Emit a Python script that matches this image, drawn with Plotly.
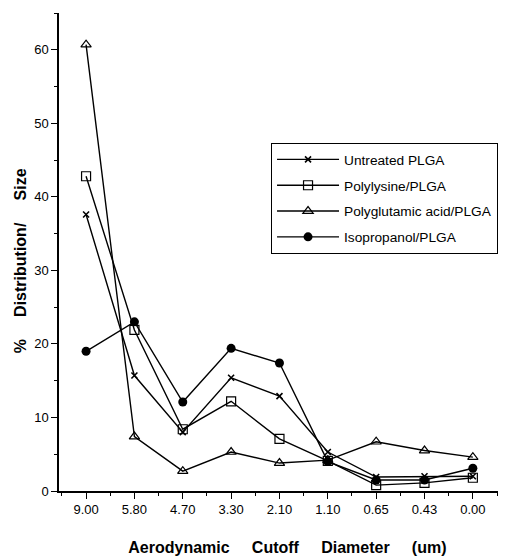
import plotly.graph_objects as go

categories = ["9.00", "5.80", "4.70", "3.30", "2.10", "1.10", "0.65", "0.43", "0.00"]
untreated = [37.6, 15.7, 8.0, 15.4, 12.9, 5.3, 1.9, 2.0, 2.0]
polylysine = [42.8, 21.9, 8.4, 12.2, 7.1, 4.1, 0.8, 1.1, 1.8]
polyglutamic = [60.7, 7.4, 2.7, 5.3, 3.8, 4.2, 6.7, 5.5, 4.6]
isopropanol = [19.0, 23.0, 12.1, 19.4, 17.4, 4.0, 1.5, 1.5, 3.1]
y_ticks = [0, 10, 20, 30, 40, 50, 60]

x = list(range(len(categories)))
FONT = "Liberation Sans, Arial, sans-serif"
SP = "&nbsp;"

fig = go.Figure()
series = [
    ("Untreated PLGA", untreated, "x-thin", 6, dict(color="black", width=1.6), "black"),
    ("Polylysine/PLGA", polylysine, "square-open", 9, dict(color="black", width=1.2), "black"),
    ("Polyglutamic acid/PLGA", polyglutamic, "triangle-up-open", 9, dict(color="black", width=1.2), "black"),
    ("Isopropanol/PLGA", isopropanol, "circle", 9, dict(color="black", width=0), "black"),
]
for i, (name, vals, sym, size, mline, mcol) in enumerate(series):
    fig.add_trace(go.Scatter(
        x=x, y=vals, name=name, mode="lines+markers",
        line=dict(color="black", width=1.4),
        marker=dict(symbol=sym, size=size, color=mcol, line=mline),
        legendgroup=f"g{i}",
    ))

# the page body has an 8px margin, so the figure is shifted by 8px right/down
fig.update_layout(
    width=507, height=550,
    margin=dict(l=51, r=17, t=5, b=67),
    paper_bgcolor="white", plot_bgcolor="white",
    font=dict(family=FONT, size=13, color="black"),
    showlegend=True,
    legend=dict(
        x=0.483, y=0.728, xanchor="left", yanchor="top",
        bordercolor="black", borderwidth=1, bgcolor="white",
        font=dict(family=FONT, size=13.7, color="black"),
        traceorder="grouped", tracegroupgap=5,
        itemwidth=62,
    ),
    xaxis=dict(
        automargin=False,
        range=[-0.56, 8.52],
        tickmode="array", tickvals=x, ticktext=categories,
        ticks="outside", ticklen=6, tickwidth=1.3, tickcolor="black",
        showline=True, linecolor="black", linewidth=1.5,
        showgrid=False, zeroline=False,
        tickfont=dict(family=FONT, size=13, color="black"),
        minor=dict(tickmode="array", tickvals=[v + 0.5 for v in x[:-1]] + [-0.5, 8.5],
                   ticks="outside", ticklen=3, tickcolor="black", showgrid=False),
        title=dict(text=SP * 4 + "Aerodynamic" + SP * 5 + "Cutoff" + SP * 5 + "Diameter" + SP * 5 + "(um)",
                   font=dict(family=FONT, size=16, color="black", weight="bold"), standoff=25),
    ),
    yaxis=dict(
        automargin=False,
        range=[0, 65],
        tickmode="array", tickvals=y_ticks,
        ticks="outside", ticklen=6, tickwidth=1.3, tickcolor="black",
        showline=True, linecolor="black", linewidth=1.5,
        showgrid=False, zeroline=False,
        tickfont=dict(family=FONT, size=13, color="black"),
        minor=dict(tickmode="linear", tick0=5, dtick=10, ticks="outside", ticklen=3,
                   tickcolor="black", showgrid=False),
        title=dict(text="%" + SP * 5 + "Distribution/" + SP * 5 + "Size" + SP * 4,
                   font=dict(family=FONT, size=16, color="black", weight="bold"), standoff=4),
    ),
)

fig.write_html("out.html")
